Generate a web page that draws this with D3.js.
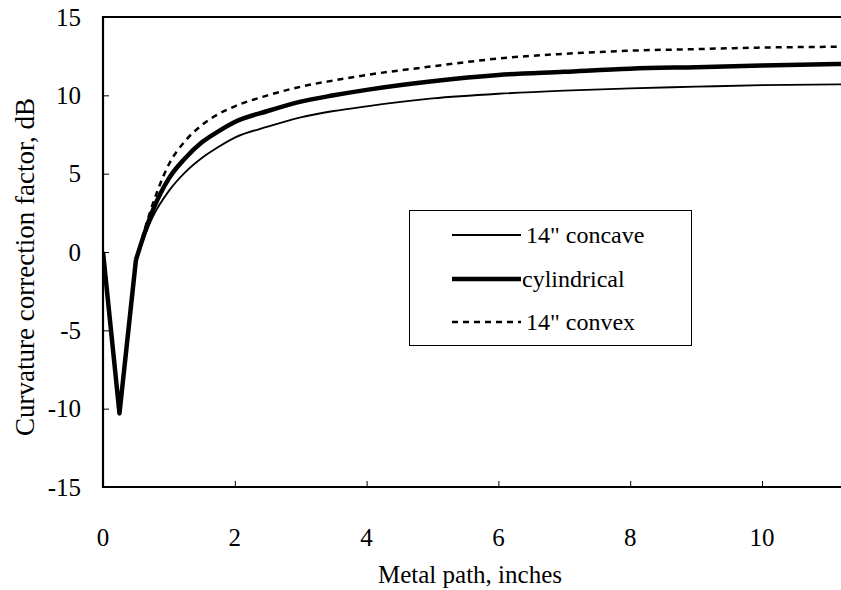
<!DOCTYPE html>
<html>
<head>
<meta charset="utf-8">
<script src="https://cdn.jsdelivr.net/npm/d3@7"></script>
<style>
  body { margin: 0; background: #fff; }
  svg text { font-family: "Liberation Serif", "Times New Roman", serif; fill: #000; }
</style>
</head>
<body>
<div id="chart"></div>
<script>
/* Values */
const metalPath = [0, 0.25, 0.5, 0.75, 1, 1.25, 1.5, 1.75, 2, 2.5, 3, 3.5, 4, 5, 6, 7, 8, 9, 10, 11.2];
const concave = [0, -10.3, -0.5, 2.2, 3.9, 5.1, 6.0, 6.7, 7.3, 8.0, 8.6, 9.0, 9.3, 9.8, 10.1, 10.3, 10.45, 10.55, 10.65, 10.7];
const cylindrical = [0, -10.3, -0.5, 2.6, 4.7, 6.0, 7.0, 7.7, 8.3, 9.0, 9.6, 10.0, 10.35, 10.9, 11.3, 11.5, 11.7, 11.8, 11.9, 12.0];
const convex = [0, -10.3, -0.5, 3.0, 5.6, 7.1, 8.1, 8.8, 9.3, 10.0, 10.55, 10.95, 11.3, 11.85, 12.35, 12.65, 12.85, 12.95, 13.05, 13.1];
const xTicks = [0, 2, 4, 6, 8, 10];
const yTicks = [-15, -10, -5, 0, 5, 10, 15];
const seriesNames = ['14" concave', 'cylindrical', '14" convex'];

const W = 841, H = 590;
const margin = { top: 17, right: 0, bottom: 103, left: 103 };

const x = d3.scaleLinear().domain([0, 10]).range([margin.left, 762]);
const y = d3.scaleLinear().domain([-15, 15]).range([H - margin.bottom, margin.top]);

const svg = d3.select('#chart').append('svg')
    .attr('width', W)
    .attr('height', H);

svg.append('defs').append('clipPath').attr('id', 'plot')
  .append('rect')
    .attr('x', margin.left)
    .attr('y', margin.top - 2)
    .attr('width', W - margin.left)
    .attr('height', H - margin.bottom - margin.top + 4);

/* Lines */
const styles = [
    { values: concave, width: 1.8, dash: null },
    { values: cylindrical, width: 4.5, dash: null },
    { values: convex, width: 2.5, dash: '6,5' }
];

// sharp dip drawn straight, the rise after it smoothed
const line = d3.line()
    .x(d => x(d[0]))
    .y(d => y(d[1]));
const smooth = d3.line()
    .x(d => x(d[0]))
    .y(d => y(d[1]))
    .curve(d3.curveMonotoneX);

const plot = svg.append('g').attr('clip-path', 'url(#plot)');
styles.forEach(s => {
    const pts = metalPath.map((m, i) => [m, s.values[i]]);
    [[line, pts.slice(0, 3)], [smooth, pts.slice(2)]].forEach(([gen, part]) => {
        plot.append('path')
            .datum(part)
            .attr('fill', 'none')
            .attr('stroke', '#000')
            .attr('stroke-width', s.width)
            .attr('stroke-linejoin', 'round')
            .attr('stroke-dasharray', s.dash)
            .attr('d', gen);
    });
});

/* Axes */
const xAxis = svg.append('g')
    .attr('transform', 'translate(0,' + y(-15) + ')')
    .call(d3.axisTop(x).tickValues(xTicks).tickSize(6).tickFormat(''));
xAxis.select('.domain').remove();
xAxis.selectAll('.tick line').attr('stroke', '#000').attr('stroke-width', 1);

const yAxis = svg.append('g')
    .attr('transform', 'translate(' + margin.left + ',0)')
    .call(d3.axisRight(y).tickValues(yTicks).tickSize(6).tickFormat(''));
yAxis.select('.domain').remove();
yAxis.selectAll('.tick line').attr('stroke', '#000').attr('stroke-width', 1);

/* Frame: left, bottom and top */
svg.append('path')
    .attr('d', 'M' + W + ',' + y(15) + 'H' + x(0) + 'V' + y(-15) + 'H' + W)
    .attr('fill', 'none')
    .attr('stroke', '#000')
    .attr('stroke-width', 2.2);

/* Tick labels */
svg.append('g').selectAll('text')
    .data(xTicks)
    .join('text')
    .attr('x', d => x(d))
    .attr('y', 546)
    .attr('text-anchor', 'middle')
    .attr('font-size', 25)
    .text(d => d);

svg.append('g').selectAll('text')
    .data(yTicks)
    .join('text')
    .attr('x', 81)
    .attr('y', d => y(d))
    .attr('dy', '0.35em')
    .attr('text-anchor', 'end')
    .attr('font-size', 25)
    .text(d => d);

/* Axis titles */
svg.append('text')
    .attr('x', 470)
    .attr('y', 583)
    .attr('text-anchor', 'middle')
    .attr('font-size', 25)
    .text('Metal path, inches');

svg.append('text')
    .attr('transform', 'translate(25,267) rotate(-90)')
    .attr('dy', '0.35em')
    .attr('text-anchor', 'middle')
    .attr('font-size', 27)
    .text('Curvature correction factor, dB');

/* Legend */
const legend = svg.append('g');
legend.append('rect')
    .attr('x', 409.5)
    .attr('y', 210.5)
    .attr('width', 282)
    .attr('height', 135)
    .attr('fill', '#fff')
    .attr('stroke', '#000')
    .attr('stroke-width', 1);

const legendY = [235, 279, 322];
styles.forEach((s, i) => {
    legend.append('line')
        .attr('x1', 452)
        .attr('x2', 521)
        .attr('y1', legendY[i])
        .attr('y2', legendY[i])
        .attr('stroke', '#000')
        .attr('stroke-width', s.width)
        .attr('stroke-dasharray', s.dash);
    legend.append('text')
        .attr('x', i === 1 ? 522 : 526)
        .attr('y', legendY[i])
        .attr('dy', '0.35em')
        .attr('font-size', 24)
        .text(seriesNames[i]);
});
</script>
</body>
</html>
